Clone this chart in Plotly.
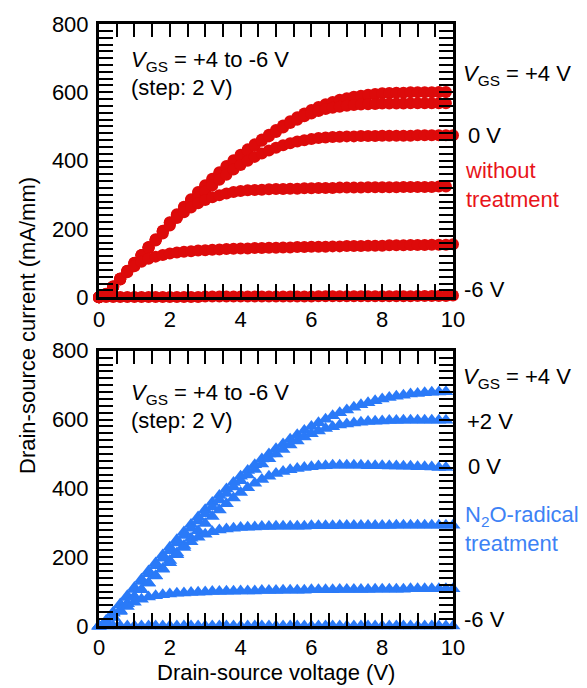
import plotly.graph_objects as go

# Drain-source voltage sweep (V)
VDS = [0.0, 0.2, 0.4, 0.6, 0.8, 1.0, 1.2, 1.4, 1.6, 1.8,
       2.0, 2.2, 2.4, 2.6, 2.8, 3.0, 3.2, 3.4, 3.6, 3.8,
       4.0, 4.2, 4.4, 4.6, 4.8, 5.0, 5.2, 5.4, 5.6, 5.8,
       6.0, 6.2, 6.4, 6.6, 6.8, 7.0, 7.2, 7.4, 7.6, 7.8,
       8.0, 8.2, 8.4, 8.6, 8.8, 9.0, 9.2, 9.4, 9.6, 9.8, 10.0]

# ---- without treatment (mA/mm) ----
A_p4 = [0, 10, 32, 55, 78, 101, 124, 147, 170, 195,
        220, 243, 265, 287, 308, 328, 347, 366, 384, 401,
        417, 433, 448, 462, 476, 490, 503, 515, 527, 538,
        548, 557, 565, 572, 578, 583, 587, 590, 593, 595,
        597, 598, 599, 599, 600, 600, 600, 600, 601, 601, None]
A_p2 = [0, 9, 31, 54, 77, 100, 123, 146, 168, 193,
        218, 240, 262, 284, 305, 325, 344, 363, 381, 398,
        414, 429, 444, 458, 471, 484, 497, 510, 520, 530,
        538, 545, 551, 555, 558, 561, 563, 564, 565, 566,
        567, 567, 567, 567, 568, 568, 568, 568, 568, 568, None]
A_0 = [0, 9, 31, 54, 77, 100, 123, 146, 168, 191,
       214, 235, 255, 274, 292, 310, 327, 344, 359, 374,
       387, 400, 411, 421, 430, 438, 445, 451, 456, 460,
       463, 466, 468, 469, 470, 471, 471, 472, 472, 472,
       473, 473, 473, 473, 473, 474, 474, 474, 474, 474, 474]
A_m2 = [0, 9, 30, 53, 76, 99, 122, 144, 166, 187,
        210, 232, 249, 263, 275, 285, 293, 299, 304, 308,
        311, 313, 314, 315, 316, 317, 317, 318, 318, 319,
        319, 320, 320, 320, 321, 321, 321, 321, 322, 322,
        322, 322, 322, 323, 323, 323, 323, 323, 324, 324, None]
A_m4 = [0, 9, 30, 52, 73, 91, 104, 113, 119, 124,
        128, 131, 133, 135, 137, 138, 139, 140, 141, 142,
        143, 143, 144, 144, 145, 145, 146, 146, 147, 147,
        148, 148, 148, 149, 149, 150, 150, 150, 151, 151,
        151, 152, 152, 152, 153, 153, 153, 154, 154, 154, 155]
A_m6 = [0, 1, 1, 1, 1, 1, 1, 1, 1, 1,
        1, 1, 1, 1, 1, 2, 2, 2, 2, 2,
        2, 2, 2, 2, 2, 2, 2, 2, 2, 2,
        2, 3, 3, 3, 3, 3, 3, 3, 3, 3,
        3, 3, 3, 3, 3, 4, 4, 4, 4, 4, 5]

# ---- N2O-radical treatment (mA/mm) ----
B_p4 = [0, 16, 40, 64, 88, 112, 136, 160, 183, 206,
        229, 251, 273, 295, 317, 338, 359, 379, 398, 417,
        435, 452, 469, 485, 500, 515, 529, 543, 556, 568,
        580, 591, 601, 611, 620, 628, 636, 643, 649, 655,
        660, 664, 668, 671, 674, 676, 678, 679, 680, 681, None]
B_p2 = [0, 14, 37, 60, 83, 106, 129, 152, 175, 197,
        219, 241, 263, 284, 305, 326, 346, 366, 385, 404,
        422, 439, 455, 471, 486, 500, 513, 526, 538, 549,
        559, 567, 574, 579, 584, 587, 590, 592, 594, 595,
        596, 597, 597, 598, 598, 598, 598, 598, 598, 598, None]
B_0 = [0, 8, 26, 45, 65, 85, 105, 125, 146, 167,
       190, 212, 234, 255, 277, 298, 318, 337, 355, 372,
       388, 402, 415, 426, 435, 443, 449, 454, 458, 461,
       463, 465, 466, 467, 467, 467, 467, 467, 466, 466,
       466, 465, 465, 464, 464, 463, 463, 462, 461, 461, None]
B_m2 = [0, 8, 26, 45, 65, 85, 105, 125, 145, 165,
        184, 207, 228, 245, 258, 267, 274, 279, 282, 284,
        286, 287, 288, 289, 289, 290, 290, 290, 290, 290,
        291, 291, 291, 291, 292, 292, 292, 292, 292, 292,
        292, 292, 293, 293, 293, 293, 293, 293, 293, 293, 293]
B_m4 = [0, 8, 25, 42, 57, 69, 78, 84, 88, 91,
        93, 95, 96, 97, 98, 99, 100, 100, 101, 101,
        102, 102, 102, 103, 103, 103, 104, 104, 104, 104,
        105, 105, 105, 105, 106, 106, 106, 106, 106, 107,
        107, 107, 107, 107, 108, 108, 108, 108, 108, 108, 108]
B_m6 = [0, 0, 0, 0, 0, 0, 0, 0, 0, 0,
        0, 0, 0, 0, 0, 0, 0, 0, 0, 0,
        0, 0, 0, 0, 0, 0, 0, 0, 0, 0,
        0, 0, 0, 0, 0, 0, 0, 0, 0, 0,
        0, 0, 0, 0, 0, 0, 0, 0, 0, 0, 0]

TOP_SERIES = [A_p4, A_p2, A_0, A_m2, A_m4, A_m6]
BOT_SERIES = [B_p4, B_p2, B_0, B_m2, B_m4, B_m6]

X_LONG_EXTRA = [1, 3, 5, 7, 9]        # unlabeled long ticks on x
Y_LONG_EXTRA = [100, 300, 500, 700]   # unlabeled long ticks on y

RED = "#dd0a0a"
RED_TXT = "#e8141a"
BLUE = "#2a7af8"
BLUE_TXT = "#3d82f5"
FONT = "Arial, Liberation Sans, sans-serif"
FS = 22

fig = go.Figure()
for ys in TOP_SERIES:
    fig.add_trace(go.Scatter(x=VDS, y=ys, mode="markers", xaxis="x", yaxis="y",
                             marker=dict(symbol="circle", size=12, color=RED, line=dict(width=0)),
                             cliponaxis=False, showlegend=False, hoverinfo="skip"))
for ys in BOT_SERIES:
    fig.add_trace(go.Scatter(x=VDS, y=ys, mode="markers", xaxis="x2", yaxis="y2",
                             marker=dict(symbol="triangle-up", size=13, color=BLUE, line=dict(width=0)),
                             cliponaxis=False, showlegend=False, hoverinfo="skip"))
# empty traces that bind the overlay tick axes
for xa, ya in [("x3", "y"), ("x", "y3"), ("x4", "y2"), ("x2", "y4")]:
    fig.add_trace(go.Scatter(x=[None], y=[None], xaxis=xa, yaxis=ya, mode="markers",
                             showlegend=False, hoverinfo="skip"))

TICKFONT = dict(size=FS, color="black", family=FONT)

def xax(anchor):
    return dict(range=[0, 10], anchor=anchor, domain=[0, 1], dtick=2, tick0=0,
                ticks="inside", ticklen=13, tickwidth=2, tickcolor="black",
                minor=dict(dtick=0.5, ticks="inside", ticklen=7, tickwidth=2, tickcolor="black"),
                showline=True, linewidth=3, linecolor="black", mirror="allticks",
                showgrid=False, zeroline=False, tickfont=TICKFONT)

def yax(anchor, dom):
    return dict(range=[0, 800], anchor=anchor, domain=dom, dtick=200, tick0=0,
                ticks="inside", ticklen=14, tickwidth=2, tickcolor="black",
                minor=dict(dtick=20, ticks="inside", ticklen=8, tickwidth=2, tickcolor="black"),
                showline=True, linewidth=3, linecolor="black", mirror="allticks",
                showgrid=False, zeroline=False, tickfont=TICKFONT, ticklabelstandoff=3)

def x_over(base, anchor):
    return dict(range=[0, 10], overlaying=base, anchor=anchor, side="bottom",
                tickmode="array", tickvals=X_LONG_EXTRA, showticklabels=False,
                ticks="inside", ticklen=13, tickwidth=2, tickcolor="black",
                showline=False, mirror="allticks", showgrid=False, zeroline=False)

def y_over(base, anchor):
    return dict(range=[0, 800], overlaying=base, anchor=anchor, side="left",
                tickmode="array", tickvals=Y_LONG_EXTRA, showticklabels=False,
                ticks="inside", ticklen=14, tickwidth=2, tickcolor="black",
                showline=False, mirror="allticks", showgrid=False, zeroline=False)

TOP_DOM = [332 / 608, 1.0]
BOT_DOM = [0.0, 278 / 608]

fig.update_layout(
    width=587, height=688,
    margin=dict(l=99, r=134, t=18, b=62),
    paper_bgcolor="white", plot_bgcolor="white",
    font=dict(family=FONT, size=FS, color="black"),
    hovermode=False,
    xaxis=xax("y"), yaxis=yax("x", TOP_DOM),
    xaxis2=xax("y2"), yaxis2=yax("x2", BOT_DOM),
    xaxis3=x_over("x", "y"), yaxis3=y_over("y", "x"),
    xaxis4=x_over("x2", "y2"), yaxis4=y_over("y2", "x2"),
)

def ann(text, x, y, xref, yref, color="black", xanchor="left", **kw):
    fig.add_annotation(text=text, x=x, y=y, xref=xref, yref=yref, showarrow=False,
                       xanchor=xanchor, yanchor="middle",
                       font=dict(size=FS, color=color, family=FONT), **kw)

RX = (461 - 99) / 354
# top panel
ann("<i>V</i><sub>GS</sub> = +4 to -6 V", 0.85, 693, "x", "y")
ann("(step: 2 V)", 0.85, 614, "x", "y")
ann("<i>V</i><sub>GS</sub> = +4 V", RX, 652, "paper", "y")
ann("0 V", (466 - 99) / 354, 475, "paper", "y")
ann("without<br>treatment", (463 - 99) / 354, 330, "paper", "y", color=RED_TXT, align="left")
ann("-6 V", (462 - 99) / 354, 24, "paper", "y")
# bottom panel
ann("<i>V</i><sub>GS</sub> = +4 to -6 V", 0.85, 673, "x2", "y2")
ann("(step: 2 V)", 0.85, 596, "x2", "y2")
ann("<i>V</i><sub>GS</sub> = +4 V", RX, 720, "paper", "y2")
ann("+2 V", (465 - 99) / 354, 593, "paper", "y2")
ann("0 V", (466 - 99) / 354, 463, "paper", "y2")
ann("N<sub>2</sub>O-radical<br>treatment", (463 - 99) / 354, 282, "paper", "y2", color=BLUE_TXT, align="left")
ann("-6 V", (462 - 99) / 354, 20, "paper", "y2")
# axis titles
ann("Drain-source voltage (V)", 0.5, (626 - 673) / 608, "paper", "paper", xanchor="center")
ann("Drain-source current (mA/mm)", (28 - 99) / 354, (626 - 323) / 608, "paper", "paper",
    xanchor="center", textangle=-90)

fig.write_html("out.html")
